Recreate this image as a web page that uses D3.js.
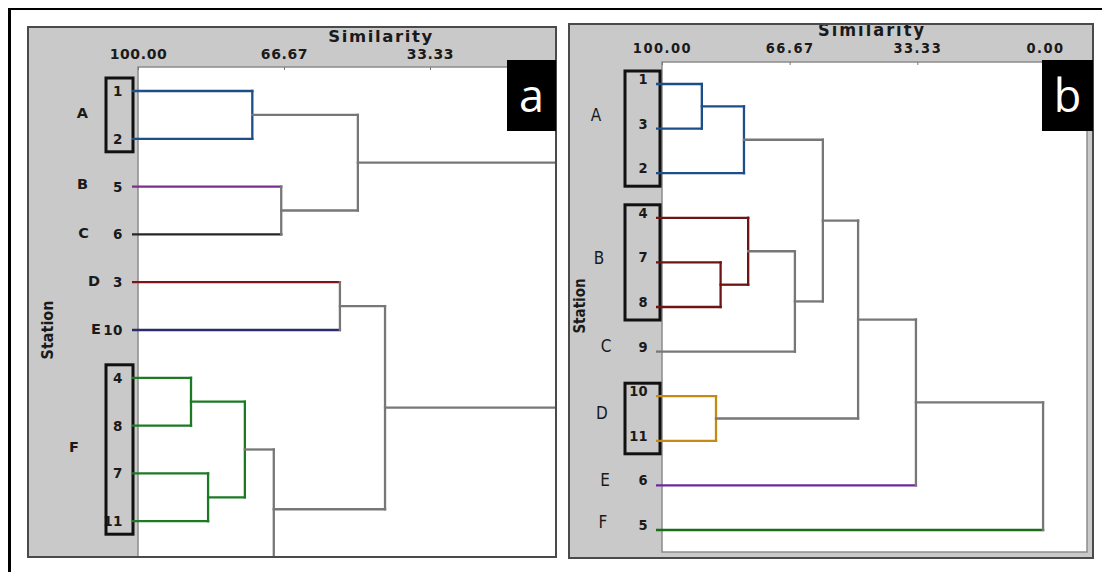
<!DOCTYPE html>
<html>
  <head>
    <meta charset="UTF-8" />
    <script src="https://cdnjs.cloudflare.com/ajax/libs/d3/7.8.5/d3.min.js"></script>
    <style>
      body { margin: 0; background: #fff; }
      svg { display: block; }
      .panel-bg { fill: #c9c9c9; }
      .panel-edge { fill: none; stroke: #4a4a4a; stroke-width: 2; }
      .plot-bg { fill: #fff; stroke: #8c8c8c; stroke-width: 1.5; }
      .link { fill: none; stroke-width: 2.3; stroke-linecap: square; }
      .tag rect { fill: #000; }
      .tag text { fill: #fff; font-family: "Open Sans"; font-size: 45px; text-anchor: middle; }
      .grpbox { fill: none; stroke: #111; stroke-width: 3; }
      .frame { stroke: #000; }
      text { fill: #1a1a1a; }
    </style>
  </head>
  <body>
    <svg width="1102" height="572"></svg>
    <script>
      var narrow = "'DejaVu Sans Condensed', 'Liberation Sans Narrow', 'DejaVu Sans', sans-serif";

      // similarity ticks
      var simTicksA = [100, 66.67, 33.33];
      var simTicksB = [100, 66.67, 33.33, 0];

      // panel a - leaves top to bottom (station 9 sits just under the frame)
      var leavesA = ["1", "2", "5", "6", "3", "10", "4", "8", "7", "11", "9"];
      var leafGroupA = ["A", "A", "B", "C", "D", "E", "F", "F", "F", "F", "-"];
      // [child, child, similarity, group]  "m<i>" = merge i
      var mergesA = [
        ["1", "2", 73.9, "A"],
        ["5", "6", 67.3, "-"],
        ["m0", "m1", 49.8, "-"],
        ["3", "10", 53.9, "-"],
        ["4", "8", 87.9, "F"],
        ["7", "11", 84.0, "F"],
        ["m4", "m5", 75.6, "F"],
        ["m6", "9", 69.0, "-"],
        ["m3", "m7", 43.6, "-"],
        ["m2", "m8", 1.0, "-"]
      ];
      var groupsA = ["A", "B", "C", "D", "E", "F"];
      var boxesA = [["1", "2"], ["4", "11"]];

      // panel b
      var leavesB = ["1", "3", "2", "4", "7", "8", "9", "10", "11", "6", "5"];
      var leafGroupB = ["A", "A", "A", "B", "B", "B", "C", "D", "D", "E", "F"];
      var mergesB = [
        ["1", "3", 89.6, "A"],
        ["m0", "2", 78.6, "A"],
        ["7", "8", 84.7, "B"],
        ["4", "m2", 77.5, "B"],
        ["m3", "9", 65.3, "-"],
        ["m1", "m4", 58.0, "-"],
        ["10", "11", 85.9, "D"],
        ["m5", "m6", 48.8, "-"],
        ["m7", "6", 33.7, "-"],
        ["m8", "5", 0.5, "-"]
      ];
      var groupsB = ["A", "B", "C", "D", "E", "F"];
      var boxesB = [["1", "2"], ["4", "8"], ["10", "11"]];

      var svg = d3.select("svg");
      var defs = svg.append("defs");

      // outer frame
      svg.append("line").attr("class", "frame").attr("x1", 9.5).attr("y1", 8).attr("x2", 9.5).attr("y2", 572).attr("stroke-width", 3);
      svg.append("line").attr("class", "frame").attr("x1", 8).attr("y1", 9).attr("x2", 1102).attr("y2", 9).attr("stroke-width", 2);

      function drawDendrogram(cfg) {
        var L = cfg.layout;
        var g = svg.append("g");
        var colors = cfg.colors;

        defs.append("clipPath").attr("id", "clip-" + cfg.id)
          .append("rect")
          .attr("x", L.plot[0] - 6).attr("y", L.plot[1])
          .attr("width", L.plot[2] - L.plot[0] + 6).attr("height", L.plot[3] - L.plot[1]);
        defs.append("clipPath").attr("id", "pclip-" + cfg.id)
          .append("rect")
          .attr("x", L.panel[0]).attr("y", L.panel[1])
          .attr("width", L.panel[2] - L.panel[0]).attr("height", L.panel[3] - L.panel[1]);

        g.append("rect").attr("class", "panel-bg")
          .attr("x", L.panel[0]).attr("y", L.panel[1])
          .attr("width", L.panel[2] - L.panel[0]).attr("height", L.panel[3] - L.panel[1]);
        g.append("rect").attr("class", "plot-bg")
          .attr("x", L.plot[0]).attr("y", L.plot[1])
          .attr("width", L.plot[2] - L.plot[0]).attr("height", L.plot[3] - L.plot[1]);

        var x = d3.scaleLinear().domain([100, 0]).range([L.plot[0], L.zeroX]);
        var y = d3.scalePoint().domain(cfg.leaves).range(L.leafY);

        // title (its top is cut by the panel edge in b)
        g.append("text")
          .attr("clip-path", "url(#pclip-" + cfg.id + ")")
          .attr("x", L.title[0]).attr("y", L.title[1])
          .attr("text-anchor", "middle")
          .style("font-family", L.font).style("font-weight", "bold")
          .style("font-size", L.titleSize + "px").style("letter-spacing", L.titleSpacing + "px")
          .text("Similarity");

        // axis
        var axis = d3.axisTop(x)
          .tickValues(cfg.ticks)
          .tickFormat(d3.format(".2f"))
          .tickSizeInner(-3).tickSizeOuter(0)
          .tickPadding(L.tickPad);
        var ax = g.append("g").attr("transform", "translate(0," + L.plot[1] + ")").call(axis);
        ax.select(".domain").remove();
        ax.selectAll("line").attr("stroke", "#777");
        ax.selectAll("text")
          .attr("fill", "#1a1a1a")
          .style("font-family", L.font).style("font-weight", "bold")
          .style("font-size", L.tickSize + "px").style("letter-spacing", L.tickSpacing + "px");

        // Station
        g.append("text")
          .attr("transform", "translate(" + L.station[0] + "," + L.station[1] + ") rotate(-90)")
          .attr("text-anchor", "middle").attr("dominant-baseline", "central")
          .style("font-family", narrow).style("font-weight", "bold")
          .style("font-size", L.stationSize + "px")
          .text("Station");

        // leaf numbers (only those inside the frame)
        var shown = cfg.leaves.filter(function (d) { return y(d) < L.plot[3]; });
        g.selectAll("text.leaf").data(shown).enter().append("text")
          .attr("class", "leaf")
          .attr("x", L.leafX).attr("y", function (d) { return y(d) + L.leafDy; })
          .attr("text-anchor", "end").attr("dominant-baseline", "central")
          .style("font-family", L.font).style("font-weight", "bold")
          .style("font-size", L.leafSize + "px").style("letter-spacing", L.leafSpacing + "px")
          .text(function (d) { return d; });

        // station group letters
        g.selectAll("text.grp").data(cfg.groups).enter().append("text")
          .attr("class", "grp")
          .attr("x", function (d, i) { return L.groupX[i]; })
          .attr("y", function (d, i) {
            var ys = cfg.leaves.filter(function (l, k) { return cfg.leafGroup[k] === d; }).map(y);
            return d3.mean(ys) + L.groupDy[i];
          })
          .attr("text-anchor", L.groupAnchor).attr("dominant-baseline", "central")
          .style("font-family", L.font).style("font-weight", L.groupWeight)
          .style("font-size", L.groupSize + "px")
          .text(function (d) { return d; });

        // boxes round grouped stations
        g.selectAll("rect.grpbox").data(cfg.boxes).enter().append("rect")
          .attr("class", "grpbox")
          .attr("x", L.boxX[0]).attr("width", L.boxX[1] - L.boxX[0])
          .attr("y", function (d) { return y(d[0]) - 13; })
          .attr("height", function (d) { return y(d[1]) - y(d[0]) + 26; });

        // links
        var pos = {};
        cfg.leaves.forEach(function (d, i) {
          pos[d] = { x: x(100) - 5, y: y(d), group: cfg.leafGroup[i], leaf: true };
        });
        var segs = [];
        cfg.merges.forEach(function (m, i) {
          var a = pos[m[0]], b = pos[m[1]], mx = x(m[2]);
          var col = colors[m[3]];
          [a, b].forEach(function (c) {
            segs.push({ x1: c.x, y1: c.y, x2: mx, y2: c.y, color: c.leaf ? colors[c.group] : col });
          });
          segs.push({ x1: mx, y1: a.y, x2: mx, y2: b.y, color: col });
          pos["m" + i] = { x: mx, y: (a.y + b.y) / 2 };
        });
        g.append("g").attr("clip-path", "url(#clip-" + cfg.id + ")")
          .selectAll("line").data(segs).enter().append("line")
          .attr("class", "link")
          .attr("x1", function (d) { return d.x1; }).attr("y1", function (d) { return d.y1; })
          .attr("x2", function (d) { return d.x2; }).attr("y2", function (d) { return d.y2; })
          .attr("stroke", function (d) { return d.color; });

        g.append("rect").attr("class", "panel-edge")
          .attr("x", L.panel[0]).attr("y", L.panel[1])
          .attr("width", L.panel[2] - L.panel[0]).attr("height", L.panel[3] - L.panel[1]);

        var tag = g.append("g").attr("class", "tag");
        tag.append("rect")
          .attr("x", L.tag[0]).attr("y", L.tag[1])
          .attr("width", L.tag[2] - L.tag[0]).attr("height", L.tag[3] - L.tag[1]);
        tag.append("text")
          .attr("x", (L.tag[0] + L.tag[2]) / 2).attr("y", 112)
          .text(cfg.id);
      }

      drawDendrogram({
        id: "a",
        leaves: leavesA, leafGroup: leafGroupA, merges: mergesA,
        groups: groupsA, boxes: boxesA, ticks: simTicksA,
        colors: { A: "#1c4e8a", B: "#7a2f8f", C: "#262626", D: "#7d1518", E: "#2b2b6b", F: "#1d7a24", "-": "#777" },
        layout: {
          panel: [28, 27, 556, 557], plot: [138, 67, 556, 557], zeroX: 576,
          leafY: [91, 569],
          font: "DejaVu Sans",
          title: [381, 42], titleSize: 16.5, titleSpacing: 1.6,
          tickPad: 8, tickSize: 14, tickSpacing: 0.6,
          station: [47, 330], stationSize: 16,
          leafX: 123, leafDy: 0, leafSize: 13.5, leafSpacing: 0.5,
          groupX: [88, 88, 89, 100, 101, 79], groupDy: [-2, -3, -1, -1, -1, -3],
          groupAnchor: "end", groupWeight: "bold", groupSize: 14.5,
          boxX: [106, 133],
          tag: [507, 60, 556, 131]
        }
      });

      drawDendrogram({
        id: "b",
        leaves: leavesB, leafGroup: leafGroupB, merges: mergesB,
        groups: groupsB, boxes: boxesB, ticks: simTicksB,
        colors: { A: "#1c4e8a", B: "#6e1414", C: "#777", D: "#c58a12", E: "#6b2a9a", F: "#1a6e1a", "-": "#777" },
        layout: {
          panel: [569, 24, 1093, 558], plot: [662, 62, 1087, 552], zeroX: 1045,
          leafY: [84, 530],
          font: narrow,
          title: [872, 36], titleSize: 18, titleSpacing: 2,
          tickPad: 9, tickSize: 14.5, tickSpacing: 1.5,
          station: [580, 306], stationSize: 15,
          leafX: 648, leafDy: -5, leafSize: 14.5, leafSpacing: 0.3,
          groupX: [596, 599, 606, 602, 605, 603], groupDy: [-14, -4, -6, -6, -5, -8],
          groupAnchor: "middle", groupWeight: "normal", groupSize: 17,
          boxX: [625, 660],
          tag: [1042, 60, 1093, 131]
        }
      });
    </script>
  </body>
</html>
